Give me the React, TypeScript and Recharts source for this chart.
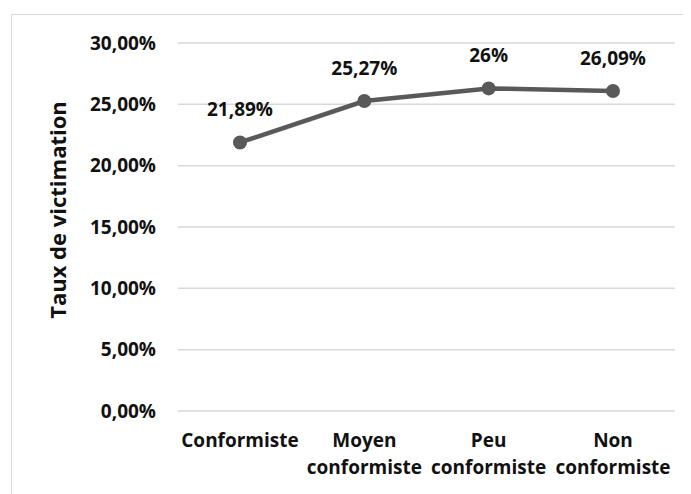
import { LineChart, Line, XAxis, YAxis, CartesianGrid, LabelList } from "recharts";

const categories = ["Conformiste", "Moyen conformiste", "Peu conformiste", "Non conformiste"];
const rates = [21.89, 25.27, 26.3, 26.09];
const rateLabels = ["21,89%", "25,27%", "26%", "26,09%"];
const yTicks = [0, 5, 10, 15, 20, 25, 30];

const data = categories.map((name, i) => ({ name, rate: rates[i], label: rateLabels[i] }));

const FONT = "'Open Sans', sans-serif";
const TEXT = "#111111";

const fmtPct = (v: number) => v.toFixed(2).replace(".", ",") + "%";

function CategoryTick({ x, y, payload }: any) {
  const words = String(payload.value).split(" ");
  return (
    <g transform={`translate(${x},${y})`}>
      {words.map((w, i) => (
        <text
          key={i}
          x={0}
          y={i * 27}
          dy={28}
          textAnchor="middle"
          fontFamily={FONT}
          fontWeight={700}
          fontSize={19}
          fill={TEXT}
        >
          {w}
        </text>
      ))}
    </g>
  );
}

export default function App() {
  return (
    <div
      style={{
        marginLeft: 3,
        marginTop: 6,
        width: 678,
        height: 480,
        border: "1px solid #d9d9d9",
        background: "#fff",
      }}
    >
      <LineChart
        width={678}
        height={480}
        data={data}
        margin={{ top: 28, right: 15, bottom: 0, left: 0 }}
      >
        <CartesianGrid vertical={false} stroke="#d9d9d9" strokeWidth={1.5} />
        <XAxis
          dataKey="name"
          axisLine={false}
          tickLine={false}
          interval={0}
          height={84}
          padding={{ left: 62, right: 62 }}
          tick={<CategoryTick />}
        />
        <YAxis
          domain={[0, 30]}
          ticks={yTicks}
          width={166}
          axisLine={false}
          tickLine={false}
          tickFormatter={fmtPct}
          tickMargin={16}
          tick={{ fontFamily: FONT, fontWeight: 700, fontSize: 19, fill: TEXT }}
          label={{
            value: "Taux de victimation",
            angle: -90,
            position: "insideLeft",
            offset: 0,
            dx: 46,
            dy: -17,
            style: { fontFamily: FONT, fontWeight: 700, fontSize: 22, fill: TEXT, textAnchor: "middle" },
          }}
        />
        <Line
          type="linear"
          dataKey="rate"
          stroke="#595959"
          strokeWidth={4.5}
          dot={{ r: 7, fill: "#595959", stroke: "#595959", strokeWidth: 0 }}
          isAnimationActive={false}
        >
          <LabelList
            dataKey="label"
            position="top"
            offset={26}
            style={{ fontFamily: FONT, fontWeight: 700, fontSize: 19, fill: TEXT }}
          />
        </Line>
      </LineChart>
    </div>
  );
}
